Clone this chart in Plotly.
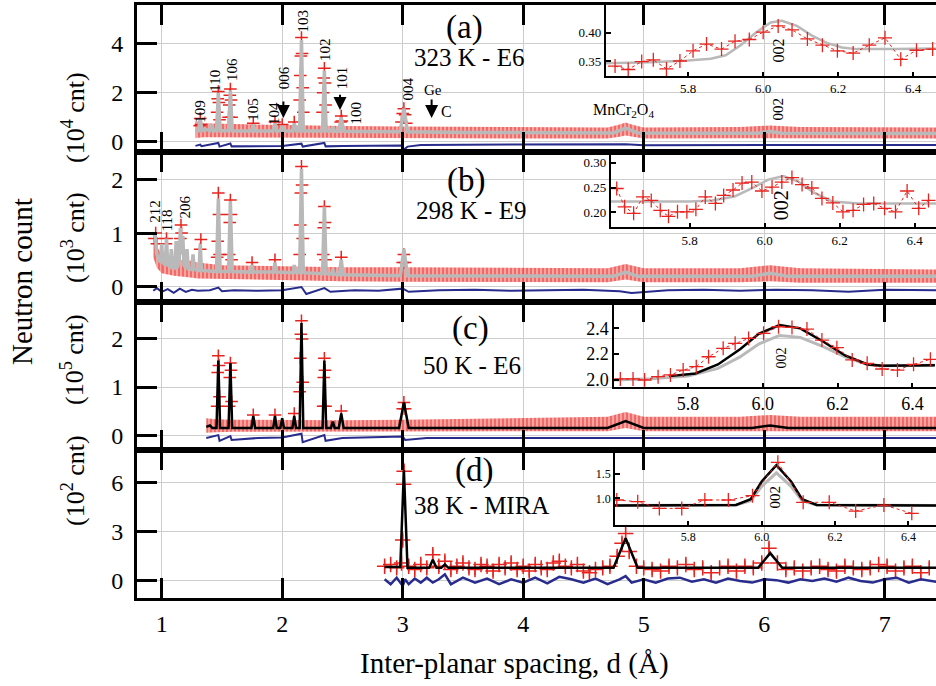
import plotly.graph_objects as go

# ---------------- data ----------------
X_TICKS = [1, 2, 3, 4, 5, 6, 7]

# Panel (a) 323 K - E6, units 1e4 cnt
CALC_A_D = [1.28, 1.305, 1.32, 1.335, 1.37, 1.40, 1.415, 1.43, 1.455, 1.47, 1.485, 1.52,
            1.555, 1.57, 1.585, 1.65, 1.745, 1.76, 1.775, 1.85, 1.925, 1.94, 1.955, 1.985,
            2.0, 2.015, 2.085, 2.10, 2.115, 2.145, 2.16, 2.175, 2.335, 2.35, 2.365, 2.405,
            2.42, 2.435, 2.47, 2.49, 2.51, 2.6, 2.8, 2.98, 3.01, 3.04, 3.5, 4.0, 4.5, 4.75,
            4.85, 4.95, 5.5, 5.95, 6.05, 6.15, 6.8, 7.43]
CALC_A_I = [0.45, 0.45, 0.95, 0.45, 0.5, 0.45, 0.7, 0.45, 0.45, 2.0, 0.45, 0.45,
            0.45, 2.1, 0.45, 0.44, 0.44, 0.7, 0.44, 0.44, 0.44, 0.75, 0.44, 0.44,
            0.65, 0.44, 0.44, 0.75, 0.44, 0.44, 4.15, 0.44, 0.44, 2.9, 0.44, 0.43,
            0.6, 0.43, 0.43, 1.0, 0.43, 0.42, 0.41, 0.41, 1.35, 0.41, 0.38, 0.36, 0.35, 0.36,
            0.55, 0.36, 0.35, 0.35, 0.42, 0.35, 0.34, 0.34]
OBS_A_D = [1.315, 1.32, 1.325, 1.46, 1.465, 1.47, 1.475, 1.48, 1.555, 1.56, 1.565, 1.57, 1.575, 1.58,
           1.76, 1.94, 2.0, 2.10, 2.145, 2.15, 2.155, 2.16, 2.165, 2.17, 2.175,
           2.335, 2.34, 2.345, 2.35, 2.355, 2.36, 2.485, 2.49, 2.495, 2.99, 3.0, 3.01, 3.02, 3.03]
OBS_A_I = [0.65, 0.95, 0.7, 1.2, 1.75, 2.05, 1.6, 0.9, 1.0, 1.5, 1.9, 2.15, 1.7, 1.0,
           0.75, 0.8, 0.7, 0.8, 1.7, 2.7, 3.5, 4.25, 3.6, 2.2, 1.2,
           1.2, 2.0, 2.6, 3.0, 2.4, 1.5, 0.8, 1.05, 0.85, 0.8, 1.15, 1.35, 1.1, 0.75]
BAND_A_D = [1.28, 1.35, 1.6, 2.0, 2.5, 3.0, 3.5, 4.0, 4.7, 4.8, 4.85, 4.9, 5.0, 5.8, 6.05, 6.3, 7.43]
BAND_A_LO = [0.15, 0.18, 0.18, 0.16, 0.15, 0.15, 0.14, 0.13, 0.13, 0.2, 0.25, 0.2, 0.13, 0.14, 0.16, 0.14, 0.13]
BAND_A_HI = [0.85, 0.75, 0.72, 0.68, 0.64, 0.62, 0.6, 0.58, 0.58, 0.7, 0.78, 0.7, 0.58, 0.6, 0.66, 0.6, 0.58]
DIFF_A_D = [1.28, 1.32, 1.33, 1.47, 1.48, 1.57, 1.58, 2.0, 2.16, 2.17, 2.35, 2.36, 2.5, 2.99,
            3.01, 3.04, 3.15, 4.0, 4.85, 5.0, 6.0, 7.43]
DIFF_A_I = [-0.17, -0.12, -0.18, -0.05, -0.2, -0.07, -0.19, -0.17, -0.08, -0.2, -0.05, -0.19, -0.17, -0.15,
            -0.32, -0.2, -0.13, -0.13, -0.1, -0.14, -0.13, -0.13]

# Panel (b) 298 K - E9, units 1e3 cnt
CALC_B_D = [0.93, 0.945, 0.96, 0.99, 1.0, 1.01, 1.03, 1.04, 1.05, 1.07, 1.08, 1.09, 1.11, 1.12, 1.13,
            1.145, 1.155, 1.165, 1.175, 1.185, 1.2, 1.21, 1.22, 1.25, 1.26, 1.27, 1.31, 1.32, 1.33,
            1.40, 1.455, 1.47, 1.485, 1.555, 1.57, 1.585, 1.74, 1.75, 1.76, 1.93, 1.94, 1.95,
            2.09, 2.10, 2.11, 2.145, 2.16, 2.175, 2.335, 2.35, 2.365, 2.41, 2.42, 2.43,
            2.475, 2.49, 2.505, 2.98, 3.01, 3.04, 4.0, 4.75, 4.85, 4.95, 5.9, 6.05, 6.2, 7.43]
CALC_B_I = [0.95, 1.0, 0.6, 0.45, 0.8, 0.45, 0.4, 0.9, 0.4, 0.37, 0.7, 0.37, 0.35, 0.85, 0.35,
            0.5, 1.1, 0.6, 0.95, 0.4, 0.35, 0.7, 0.33, 0.32, 0.6, 0.32, 0.3, 0.8, 0.3,
            0.29, 0.28, 1.65, 0.28, 0.28, 1.6, 0.28, 0.27, 0.4, 0.27, 0.27, 0.45, 0.27,
            0.26, 0.4, 0.26, 0.26, 2.2, 0.26, 0.24, 1.5, 0.24, 0.23, 0.33, 0.23,
            0.22, 0.5, 0.22, 0.2, 0.7, 0.2, 0.2, 0.19, 0.27, 0.19, 0.19, 0.25, 0.19, 0.19]
OBS_B_D = [0.94, 0.95, 0.96, 1.035, 1.04, 1.155, 1.16, 1.165, 1.32, 1.325,
           1.46, 1.465, 1.47, 1.475, 1.48, 1.56, 1.565, 1.57, 1.575, 1.58, 1.75, 1.94,
           2.145, 2.15, 2.155, 2.16, 2.165, 2.17, 2.34, 2.345, 2.35, 2.355, 2.36, 2.49, 3.0, 3.01, 3.02]
OBS_B_I = [0.9, 1.0, 0.8, 0.8, 0.9, 0.9, 1.15, 1.0, 0.7, 0.88,
           0.55, 0.85, 1.75, 1.35, 0.6, 0.6, 1.2, 1.62, 1.35, 0.5, 0.45, 0.5,
           0.6, 1.15, 1.75, 2.25, 1.9, 0.9, 0.6, 1.1, 1.5, 1.2, 0.5, 0.55, 0.45, 0.6, 0.45]
BAND_B_D = [0.93, 0.96, 1.0, 1.1, 1.2, 1.3, 1.5, 2.0, 2.5, 3.0, 4.0, 4.7, 4.85, 5.0, 5.8, 6.05, 6.3, 7.43]
BAND_B_LO = [0.55, 0.35, 0.25, 0.2, 0.18, 0.15, 0.14, 0.12, 0.1, 0.09, 0.08, 0.08, 0.13, 0.08, 0.08, 0.1, 0.07, 0.07]
BAND_B_HI = [1.05, 0.75, 0.6, 0.5, 0.5, 0.45, 0.4, 0.38, 0.36, 0.36, 0.34, 0.34, 0.42, 0.34, 0.34, 0.4, 0.34, 0.32]
DIFF_B_D = [0.93, 0.96, 1.0, 1.05, 1.1, 1.15, 1.2, 1.25, 1.3, 1.4, 1.47, 1.5, 1.6, 1.8, 2.0, 2.16, 2.2,
            2.35, 2.4, 2.6, 2.8, 3.0, 3.05, 3.3, 3.6, 3.9, 4.2, 4.5, 4.8, 4.9, 5.2, 5.5, 5.8, 6.1, 6.4,
            6.7, 7.0, 7.43]
DIFF_B_I = [-0.08, -0.03, -0.1, -0.05, -0.12, -0.04, -0.1, -0.06, -0.08, -0.07, -0.02, -0.09, -0.07,
            -0.08, -0.07, -0.01, -0.14, -0.03, -0.1, -0.07, -0.08, -0.04, -0.1, -0.07, -0.06, -0.08,
            -0.07, -0.06, -0.09, -0.12, -0.07, -0.06, -0.08, -0.06, -0.07, -0.1, -0.06, -0.07]

# Panel (c) 50 K - E6, units 1e5 cnt
CALC_C_D = [1.37, 1.40, 1.42, 1.455, 1.47, 1.485, 1.53, 1.555, 1.57, 1.585, 1.745, 1.76, 1.775,
            1.925, 1.94, 1.955, 1.985, 2.0, 2.015, 2.085, 2.10, 2.115, 2.145, 2.16, 2.175, 2.205,
            2.335, 2.35, 2.365, 2.405, 2.42, 2.435, 2.47, 2.49, 2.51, 2.97, 3.01, 3.05, 4.0,
            4.7, 4.85, 5.0, 5.9, 6.05, 6.2, 7.43]
CALC_C_I = [0.17, 0.2, 0.15, 0.15, 1.55, 0.15, 0.15, 0.15, 1.5, 0.15, 0.15, 0.4, 0.15,
            0.15, 0.4, 0.15, 0.15, 0.35, 0.15, 0.15, 0.4, 0.15, 0.15, 2.33, 0.15, 0.15,
            0.15, 1.55, 0.15, 0.15, 0.28, 0.15, 0.15, 0.45, 0.15, 0.15, 0.68, 0.15, 0.15,
            0.15, 0.29, 0.15, 0.15, 0.2, 0.15, 0.15]
OBS_C_D = [1.46, 1.465, 1.47, 1.475, 1.48, 1.56, 1.565, 1.57, 1.575, 1.58, 1.76, 1.94, 2.10,
           2.145, 2.15, 2.155, 2.16, 2.165, 2.17, 2.34, 2.345, 2.35, 2.355, 2.36, 2.49, 3.0, 3.01, 3.02]
OBS_C_I = [0.6, 1.3, 1.65, 1.45, 0.8, 0.6, 1.2, 1.5, 1.35, 0.7, 0.42, 0.42, 0.45,
           0.9, 1.6, 2.1, 2.38, 2.0, 1.1, 0.6, 1.2, 1.6, 1.35, 0.6, 0.5, 0.55, 0.68, 0.55]
BAND_C_D = [1.37, 1.45, 1.6, 2.0, 2.5, 3.0, 4.0, 4.7, 4.85, 5.0, 5.8, 6.05, 6.3, 7.43]
BAND_C_LO = [0.05, 0.06, 0.07, 0.08, 0.08, 0.08, 0.08, 0.08, 0.15, 0.08, 0.08, 0.09, 0.08, 0.08]
BAND_C_HI = [0.35, 0.33, 0.32, 0.31, 0.31, 0.32, 0.36, 0.38, 0.48, 0.38, 0.38, 0.42, 0.38, 0.38]
DIFF_C_D = [1.37, 1.47, 1.48, 1.57, 1.58, 1.8, 2.0, 2.16, 2.17, 2.35, 2.36, 2.5, 3.0, 3.02, 3.2,
            4.0, 4.85, 5.5, 6.05, 7.43]
DIFF_C_I = [-0.06, 0.0, -0.12, -0.02, -0.1, -0.06, -0.05, 0.03, -0.15, 0.0, -0.12, -0.06, -0.03, -0.1,
            -0.06, -0.06, -0.05, -0.06, -0.06, -0.06]

# Panel (d) 38 K - MIRA, units 1e2 cnt
CALC_D_D = [2.85, 2.98, 3.01, 3.04, 3.22, 3.25, 3.28, 3.32, 3.35, 3.38, 4.75, 4.85, 4.95, 5.95, 6.05, 6.15, 7.43]
CALC_D_I = [0.85, 0.85, 6.75, 0.8, 0.8, 1.3, 0.8, 0.8, 1.0, 0.8, 0.8, 2.6, 0.8, 0.8, 1.7, 0.8, 0.8]
OBS_D_D = [2.85, 2.90, 2.95, 2.99, 3.0, 3.008, 3.012, 3.05, 3.10, 3.15, 3.20, 3.25, 3.30, 3.35, 3.40,
           3.45, 3.50, 3.55, 3.60, 3.65, 3.70, 3.75, 3.80, 3.85, 3.90, 3.95, 4.00, 4.05, 4.10, 4.15,
           4.20, 4.25, 4.30, 4.35, 4.40, 4.45, 4.50, 4.55, 4.60, 4.66, 4.72, 4.78, 4.82, 4.85, 4.88,
           4.94, 5.00, 5.07, 5.14, 5.21, 5.28, 5.35, 5.42, 5.49, 5.56, 5.63, 5.70, 5.77, 5.84, 5.91,
           5.98, 6.04, 6.11, 6.18, 6.25, 6.32, 6.39, 6.46, 6.53, 6.60, 6.67, 6.74, 6.81, 6.88, 6.95,
           7.02, 7.09, 7.16, 7.23, 7.30, 7.37]
OBS_D_I = [0.9, 1.0, 0.8, 1.1, 2.5, 5.9, 6.7, 0.9, 0.7, 1.0, 0.8, 1.6, 0.9, 1.2, 0.7,
           0.9, 1.1, 0.8, 0.7, 1.0, 0.9, 0.6, 1.0, 0.8, 1.1, 0.7, 0.9, 0.6, 1.0, 0.8,
           0.7, 1.1, 1.2, 0.9, 0.8, 1.0, 0.6, 0.5, 0.7, 0.8, 0.9, 1.5, 2.3, 2.9, 1.8,
           0.9, 0.8, 0.7, 0.6, 0.9, 0.8, 1.0, 0.7, 0.8, 0.5, 0.8, 0.9, 0.6, 0.9, 0.8,
           1.1, 2.0, 1.1, 0.7, 0.8, 0.6, 0.8, 0.9, 0.7, 0.6, 0.9, 0.8, 0.7, 0.8, 1.0,
           0.9, 0.6, 0.8, 0.9, 0.5, 0.8]
OBS_D_ERR = 0.35
DIFF_D_D = [2.85, 2.9, 2.95, 3.0, 3.02, 3.05, 3.1, 3.15, 3.2, 3.25, 3.3, 3.35, 3.4, 3.5, 3.6, 3.7, 3.8,
            3.9, 4.0, 4.1, 4.2, 4.3, 4.4, 4.5, 4.6, 4.7, 4.8, 4.85, 4.9, 5.0, 5.1, 5.2, 5.3, 5.4, 5.5,
            5.6, 5.7, 5.8, 5.9, 6.0, 6.1, 6.2, 6.3, 6.4, 6.5, 6.6, 6.7, 6.8, 6.9, 7.0, 7.1, 7.2, 7.3, 7.43]
DIFF_D_I = [0.1, -0.2, 0.2, -0.3, 0.1, -0.2, 0.15, -0.1, 0.2, -0.1, 0.1, 0.4, -0.2, 0.2, -0.1, 0.15,
            -0.2, 0.1, -0.1, 0.2, -0.15, 0.25, 0.1, -0.1, 0.15, -0.2, 0.1, 0.3, -0.1, 0.1, -0.1, 0.15,
            0.2, -0.05, 0.1, -0.1, 0.15, 0.0, -0.1, 0.1, 0.05, -0.1, 0.1, 0.0, 0.15, -0.05, 0.2, 0.0,
            -0.1, 0.1, 0.2, -0.1, 0.1, -0.05]

# Insets around the 002 reflection
INS_A_OBS_D = [5.605, 5.64, 5.676, 5.707, 5.742, 5.778, 5.813, 5.849, 5.889, 5.925, 5.963, 6.0,
               6.04, 6.077, 6.118, 6.158, 6.198, 6.24, 6.283, 6.325, 6.367, 6.409, 6.452]
INS_A_OBS_I = [0.341, 0.335, 0.349, 0.352, 0.336, 0.350, 0.368, 0.380, 0.371, 0.385, 0.388, 0.401,
               0.412, 0.405, 0.389, 0.378, 0.368, 0.364, 0.378, 0.391, 0.353, 0.369, 0.371]
INS_A_CALC_D = [5.58, 5.70, 5.80, 5.86, 5.90, 5.94, 5.98, 6.02, 6.05, 6.09, 6.13, 6.17, 6.21, 6.25, 6.35, 6.46]
INS_A_CALC_I = [0.346, 0.348, 0.351, 0.354, 0.36, 0.378, 0.40, 0.418, 0.421, 0.412, 0.395, 0.382,
                0.374, 0.371, 0.371, 0.372]

INS_B_OBS_D = [5.606, 5.627, 5.651, 5.676, 5.698, 5.722, 5.744, 5.768, 5.793, 5.817, 5.842, 5.869,
               5.891, 5.916, 5.940, 5.966, 5.993, 6.02, 6.046, 6.073, 6.10, 6.126, 6.153, 6.182,
               6.209, 6.236, 6.264, 6.291, 6.32, 6.349, 6.38, 6.411, 6.437]
INS_B_OBS_I = [0.248, 0.211, 0.198, 0.231, 0.224, 0.204, 0.192, 0.201, 0.201, 0.206, 0.231, 0.218,
               0.234, 0.245, 0.259, 0.261, 0.243, 0.251, 0.261, 0.270, 0.256, 0.249, 0.228, 0.219,
               0.201, 0.204, 0.216, 0.218, 0.208, 0.201, 0.243, 0.208, 0.224]
INS_B_CALC_D = [5.58, 5.80, 5.86, 5.92, 5.97, 6.01, 6.05, 6.09, 6.13, 6.18, 6.25, 6.46]
INS_B_CALC_I = [0.222, 0.222, 0.224, 0.232, 0.250, 0.266, 0.273, 0.262, 0.240, 0.222, 0.218, 0.218]

INS_C_OBS_D = [5.619, 5.653, 5.684, 5.72, 5.753, 5.787, 5.822, 5.855, 5.894, 5.926, 5.962, 6.002,
               6.042, 6.078, 6.118, 6.158, 6.198, 6.239, 6.279, 6.319, 6.36, 6.403, 6.448]
INS_C_OBS_I = [2.008, 2.008, 2.0, 2.026, 2.039, 2.077, 2.103, 2.18, 2.245, 2.284, 2.322, 2.361,
               2.412, 2.407, 2.394, 2.309, 2.25, 2.155, 2.129, 2.085, 2.077, 2.121, 2.16]
INS_C_CALC_D = [5.75, 5.82, 5.88, 5.94, 5.99, 6.045, 6.10, 6.16, 6.22, 6.28, 6.32, 6.46]
INS_C_CALC_I = [2.03, 2.05, 2.12, 2.24, 2.36, 2.425, 2.40, 2.30, 2.19, 2.12, 2.11, 2.115]
INS_C_CALC0_D = [5.60, 5.70, 5.80, 5.88, 5.94, 5.99, 6.045, 6.10, 6.16, 6.22, 6.28, 6.32, 6.46]
INS_C_CALC0_I = [2.0, 2.01, 2.03, 2.09, 2.18, 2.28, 2.345, 2.33, 2.26, 2.18, 2.12, 2.11, 2.115]

INS_D_OBS_D = [5.605, 5.662, 5.721, 5.782, 5.845, 5.909, 5.975, 6.044, 6.113, 6.184, 6.256, 6.333, 6.409]
INS_D_OBS_I = [0.965, 0.93, 0.79, 0.79, 0.965, 0.965, 1.054, 1.75, 0.917, 0.917, 0.735, 0.86, 0.687]
INS_D_CALC_D = [5.60, 5.93, 5.97, 6.00, 6.04, 6.08, 6.11, 6.15, 6.48]
INS_D_CALC_I = [0.85, 0.86, 0.98, 1.35, 1.69, 1.35, 0.98, 0.86, 0.85]
INS_D_CALC0_I = [0.85, 0.86, 0.95, 1.25, 1.53, 1.25, 0.95, 0.86, 0.85]

# Peak labels (Miller indices) and their anchor positions
HKL_A = ["109", "110", "106", "105", "104", "006", "103", "102", "101", "100", "004"]
HKL_A_D = [1.318, 1.442, 1.581, 1.755, 1.932, 2.015, 2.17, 2.355, 2.494, 2.612, 3.046]
HKL_A_Y = [1.22, 2.49, 2.96, 1.33, 1.13, 2.59, 4.93, 3.78, 2.62, 1.19, 2.14]
HKL_B = ["212", "118", "206"]
HKL_B_D = [0.944, 1.04, 1.193]
HKL_B_Y = [1.42, 1.23, 1.5]
ARROW_A_D = [2.01, 2.48, 3.24]
ARROW_A_HEAD = [0.97, 1.29, 0.97]
ARROW_A_TAIL = [1.7, 1.98, 1.78]

# ---------------- styling ----------------
FONT = "Liberation Serif"
RED = "rgb(232,35,30)"
GRAY = "rgb(185,185,185)"
NAVY = "rgb(40,44,140)"
BLACK = "black"
GRID = "rgb(205,205,205)"

X_RANGE = [0.795, 7.426]
MAIN = [  # (y-domain, y-range, tickvals)
    ([0.7521, 1.0], [-0.42, 5.58], [0, 2, 4]),
    ([0.4992, 0.7521], [-0.29, 2.52], [0, 1, 2]),
    ([0.2496, 0.4992], [-0.31, 2.77], [0, 1, 2]),
    ([0.0, 0.2496], [-1.04, 7.99], [0, 3, 6]),
]
INSETS = [  # (x-domain, y-domain, x-range, y-range, yticks, fmt, fontsize)
    ([0.5866, 1.0], [0.8803, 1.0], [5.58, 6.461], [0.3235, 0.449], [0.35, 0.40], ".2f", 13),
    ([0.5929, 1.0], [0.6251, 0.7521], [5.59, 6.457], [0.1698, 0.3216], [0.20, 0.25, 0.30], ".2f", 13),
    ([0.5974, 1.0], [0.3563, 0.4992], [5.603, 6.463], [1.948, 2.604], [2.0, 2.2, 2.4], ".1f", 18),
    ([0.5982, 1.0], [0.1231, 0.2496], [5.600, 6.475], [0.444, 2.006], [1.0, 1.5], ".1f", 12),
]

fig = go.Figure()


def sc(x, y, ax, **kw):
    n = "" if ax == 1 else str(ax)
    fig.add_trace(go.Scatter(x=x, y=y, xaxis="x" + n, yaxis="y" + n,
                             showlegend=False, hoverinfo="skip", **kw))


def band(d, lo, hi, ax):
    sc(d + d[::-1], hi + lo[::-1], ax, mode="lines", fill="toself",
       line=dict(width=0, color="rgba(0,0,0,0)"), fillcolor="rgba(232,35,30,0.35)",
       fillpattern=dict(shape="|", fgcolor=RED, bgcolor="rgba(232,35,30,0.35)",
                        size=4, solidity=0.6))


def obs(d, i, ax, size=9, **kw):
    sc(d, i, ax, mode="markers",
       marker=dict(symbol="cross-thin", size=size, color=RED, line=dict(color=RED, width=1.5)), **kw)


# panel (a)
band(BAND_A_D, BAND_A_LO, BAND_A_HI, 1)
obs(OBS_A_D, OBS_A_I, 1)
sc(CALC_A_D, CALC_A_I, 1, mode="lines", line=dict(color=GRAY, width=3.5))
sc(DIFF_A_D, DIFF_A_I, 1, mode="lines", line=dict(color=NAVY, width=2))
# panel (b)
band(BAND_B_D, BAND_B_LO, BAND_B_HI, 2)
obs(OBS_B_D, OBS_B_I, 2)
sc(CALC_B_D, CALC_B_I, 2, mode="lines", line=dict(color=GRAY, width=3.5))
sc(DIFF_B_D, DIFF_B_I, 2, mode="lines", line=dict(color=NAVY, width=2))
# panel (c)
band(BAND_C_D, BAND_C_LO, BAND_C_HI, 3)
obs(OBS_C_D, OBS_C_I, 3)
sc(CALC_C_D, CALC_C_I, 3, mode="lines", line=dict(color=BLACK, width=2.5))
sc(DIFF_C_D, DIFF_C_I, 3, mode="lines", line=dict(color=NAVY, width=2))
# panel (d)
obs(OBS_D_D, OBS_D_I, 4, size=11,
    error_y=dict(type="constant", value=OBS_D_ERR, color=RED, thickness=1.2, width=0))
sc(CALC_D_D, CALC_D_I, 4, mode="lines", line=dict(color=BLACK, width=2.5))
sc(DIFF_D_D, DIFF_D_I, 4, mode="lines", line=dict(color=NAVY, width=2.5))

# insets
ins_line = dict(color=RED, width=1, dash="dot")
ins_mk = dict(symbol="cross-thin", size=10, color=RED, line=dict(color=RED, width=1.3))
sc(INS_A_CALC_D, INS_A_CALC_I, 5, mode="lines", line=dict(color=GRAY, width=2.5))
sc(INS_A_OBS_D, INS_A_OBS_I, 5, mode="lines+markers", line=ins_line, marker=ins_mk)
sc(INS_B_CALC_D, INS_B_CALC_I, 6, mode="lines", line=dict(color=GRAY, width=2.5))
sc(INS_B_OBS_D, INS_B_OBS_I, 6, mode="lines+markers", line=ins_line, marker=ins_mk)
sc(INS_C_CALC0_D, INS_C_CALC0_I, 7, mode="lines", line=dict(color=GRAY, width=3))
sc(INS_C_CALC_D, INS_C_CALC_I, 7, mode="lines", line=dict(color=BLACK, width=2.5))
sc(INS_C_OBS_D, INS_C_OBS_I, 7, mode="lines+markers", line=ins_line, marker=ins_mk)
sc(INS_D_CALC_D, INS_D_CALC0_I, 8, mode="lines", line=dict(color=GRAY, width=3))
sc(INS_D_CALC_D, INS_D_CALC_I, 8, mode="lines", line=dict(color=BLACK, width=2.5))
sc(INS_D_OBS_D, INS_D_OBS_I, 8, mode="lines+markers", line=ins_line, marker=ins_mk)

layout = dict(
    width=936, height=686, margin=dict(l=137, r=0, t=5, b=88),
    paper_bgcolor="white", plot_bgcolor="rgba(0,0,0,0)",
    font=dict(family=FONT, color="black", size=16),
)
for k, (ydom, yr, yt) in enumerate(MAIN, start=1):
    n = "" if k == 1 else str(k)
    layout["xaxis" + n] = dict(
        domain=[0, 1], range=X_RANGE, anchor="y" + n, tickvals=X_TICKS,
        ticks="inside", ticklen=20, tickwidth=2.5, tickcolor="black",
        showline=True, linewidth=3, linecolor="black", mirror="ticks",
        showgrid=True, gridcolor=GRID, gridwidth=1, zeroline=False,
        showticklabels=(k == 4), tickfont=dict(size=24), ticklabelstandoff=2)
    layout["yaxis" + n] = dict(
        domain=ydom, range=yr, anchor="x" + n, tickvals=yt,
        ticks="inside", ticklen=20, tickwidth=2.5, tickcolor="black",
        showline=True, linewidth=3, linecolor="black",
        showgrid=True, gridcolor=GRID, gridwidth=1, zeroline=False,
        tickfont=dict(size=24), ticklabelstandoff=6)
for k, (xd, yd, xr, yr, yt, fmt, fs) in enumerate(INSETS, start=5):
    n = str(k)
    layout["xaxis" + n] = dict(
        domain=xd, range=xr, anchor="y" + n, tickvals=[5.8, 6.0, 6.2, 6.4], tickformat=".1f",
        ticks="inside", ticklen=4, tickwidth=1.5, tickcolor="black",
        showline=True, linewidth=1.8, linecolor="black", showgrid=False, zeroline=False,
        tickfont=dict(size=fs))
    layout["yaxis" + n] = dict(
        domain=yd, range=yr, anchor="x" + n, tickvals=yt, tickformat=fmt,
        ticks="inside", ticklen=5, tickwidth=1.5, tickcolor="black",
        showline=True, linewidth=1.8, linecolor="black", showgrid=False, zeroline=False,
        tickfont=dict(size=fs))
fig.update_layout(**layout)


def txt(x, y, xr, yr, t, fs, angle=0):
    return dict(x=x, y=y, xref=xr, yref=yr, text=t, textangle=angle, showarrow=False,
                xanchor="center", yanchor="middle", font=dict(size=fs))


ann = []
for t, d, y in zip(HKL_A, HKL_A_D, HKL_A_Y):
    ann.append(txt(d, y, "x", "y", t, 15, -90))
for t, d, y in zip(HKL_B, HKL_B_D, HKL_B_Y):
    ann.append(txt(d, y, "x2", "y2", t, 15, -90))
for d, h, tl in zip(ARROW_A_D, ARROW_A_HEAD, ARROW_A_TAIL):
    ann.append(dict(x=d, y=h, ax=d, ay=tl, xref="x", yref="y", axref="x", ayref="y", text="",
                    showarrow=True, arrowhead=2, arrowsize=1.3, arrowwidth=2, arrowcolor="black"))
ann += [
    txt(3.25, 2.11, "x", "y", "Ge", 15),
    txt(3.365, 1.22, "x", "y", "C", 16),
    txt(4.83, 1.29, "x", "y", "MnCr<sub>2</sub>O<sub>4</sub>", 16),
    txt(6.117, 1.33, "x", "y", "002", 15, -90),
    txt(6.04, 0.369, "x5", "y5", "002", 16, -90),
    txt(6.046, 0.214, "x6", "y6", "002", 20, -90),
    txt(6.05, 2.17, "x7", "y7", "002", 14, -90),
    txt(6.035, 1.03, "x8", "y8", "002", 15, -90),
]
# panel labels
for (t, px, py, fs) in [("(a)", 464, 27, 33), ("323 K - E6", 469, 58, 25),
                        ("(b)", 466, 180, 33), ("298 K - E9", 471, 210, 25),
                        ("(c)", 470, 328, 33), ("50 K - E6", 472, 365, 25),
                        ("(d)", 474, 470, 33), ("38 K - MIRA", 481, 505, 25)]:
    ann.append(txt((px - 137) / 799, (598 - py) / 593, "paper", "paper", t, fs))
# unit labels
for (t, py) in [("(10<sup>4</sup> cnt)", 118), ("(10<sup>3</sup> cnt)", 238),
                ("(10<sup>5</sup> cnt)", 360), ("(10<sup>2</sup> cnt)", 481)]:
    ann.append(txt((73 - 137) / 799, (598 - py) / 593, "paper", "paper", t, 26, -90))
ann.append(txt((22 - 137) / 799, (598 - 282) / 593, "paper", "paper", "Neutron count", 29, -90))
ann.append(txt((514 - 137) / 799, (598 - 663) / 593, "paper", "paper",
               "Inter-planar spacing, d (Å)", 29))
fig.update_layout(annotations=ann)

fig.write_html("out.html", config={"displayModeBar": False},
               post_script="document.body.style.margin='0';"
               "document.body.style.overflow='hidden';")
